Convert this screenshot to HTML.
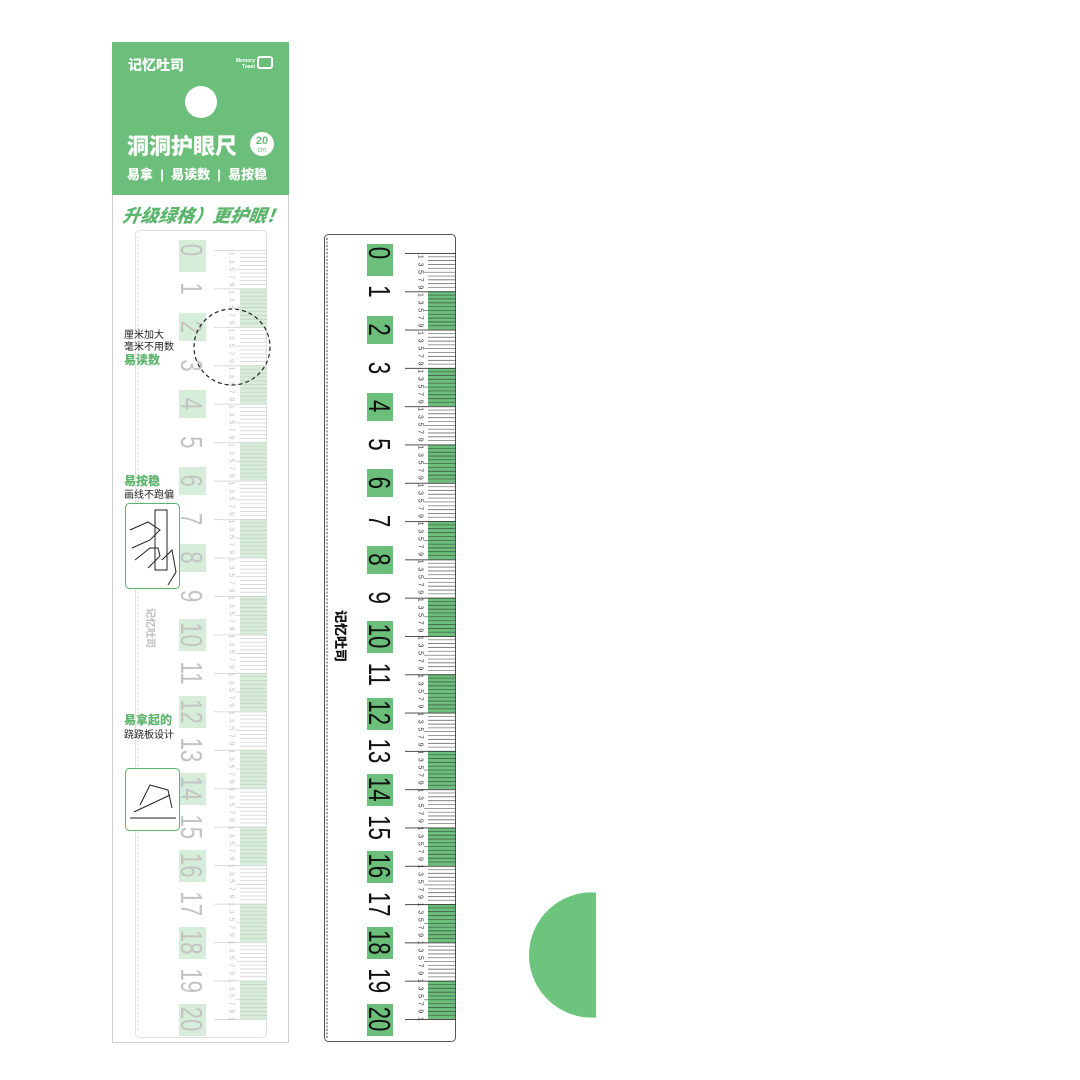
<!DOCTYPE html>
<html><head><meta charset="utf-8"><style>
html,body{margin:0;padding:0;background:#fff;}
svg{display:block;}
.cjk{font-family:"Liberation Sans","Noto Sans CJK SC",sans-serif;}
.n{font-family:"Liberation Sans",sans-serif;font-size:31px;}
.d{font-family:"Liberation Sans",sans-serif;font-size:7px;}
</style></head><body>
<svg width="1080" height="1080" viewBox="0 0 1080 1080" xmlns="http://www.w3.org/2000/svg">
<defs>
<pattern id="tk" patternUnits="userSpaceOnUse" x="0" y="253" width="1080" height="38.3">
<g stroke="#333" stroke-width="0.55">
<line x1="405" y1="0.4" x2="456" y2="0.4" stroke-width="0.9"/>
<line x1="428" y1="3.83" x2="456" y2="3.83"/><line x1="428" y1="7.66" x2="456" y2="7.66"/>
<line x1="428" y1="11.49" x2="456" y2="11.49"/><line x1="428" y1="15.32" x2="456" y2="15.32"/>
<line x1="424" y1="19.15" x2="456" y2="19.15"/><line x1="428" y1="22.98" x2="456" y2="22.98"/>
<line x1="428" y1="26.81" x2="456" y2="26.81"/><line x1="428" y1="30.64" x2="456" y2="30.64"/>
<line x1="428" y1="34.47" x2="456" y2="34.47"/>
</g></pattern>
<pattern id="tk2" patternUnits="userSpaceOnUse" x="0" y="250" width="1080" height="38.45">
<g stroke="#c4c4c4" stroke-width="0.6">
<line x1="214" y1="0.4" x2="267" y2="0.4"/>
<line x1="240" y1="3.85" x2="267" y2="3.85"/><line x1="240" y1="7.69" x2="267" y2="7.69"/>
<line x1="240" y1="11.54" x2="267" y2="11.54"/><line x1="240" y1="15.38" x2="267" y2="15.38"/>
<line x1="236" y1="19.2" x2="267" y2="19.2"/><line x1="240" y1="23.07" x2="267" y2="23.07"/>
<line x1="240" y1="26.9" x2="267" y2="26.9"/><line x1="240" y1="30.76" x2="267" y2="30.76"/>
<line x1="240" y1="34.6" x2="267" y2="34.6"/>
</g></pattern>
</defs>

<rect x="112.5" y="42.5" width="176" height="1000" fill="#fff" stroke="#cfcfcf"/>
<rect x="112" y="42" width="177" height="153" fill="#6cbf7b"/>
<text x="128" y="70" class="cjk" font-size="14" font-weight="900" fill="#fff">记忆吐司</text>
<text x="255" y="62" font-family="Liberation Sans" font-size="5" font-weight="bold" fill="#fff" text-anchor="end">Memory</text>
<text x="255" y="68" font-family="Liberation Sans" font-size="5" font-weight="bold" fill="#fff" text-anchor="end">Toast</text>
<rect x="258" y="57" width="14" height="11" rx="2" fill="none" stroke="#fff" stroke-width="2"/>
<circle cx="201" cy="102" r="16" fill="#fff"/>
<text x="127" y="154" class="cjk" font-size="22" font-weight="900" fill="#fff">洞洞护眼尺</text>
<circle cx="262" cy="144" r="12" fill="#fff"/>
<text x="262" y="144" font-family="Liberation Sans" font-size="11" font-weight="bold" fill="#6cbf7b" text-anchor="middle">20</text>
<text x="262" y="152" font-family="Liberation Sans" font-size="7" fill="#6cbf7b" text-anchor="middle">cm</text>
<text x="127" y="179" class="cjk" font-size="13" font-weight="900" fill="#fff" xml:space="preserve">易拿  |  易读数  |  易按稳</text>
<text x="123" y="222" class="cjk" font-size="18" font-weight="900" font-style="italic" fill="#5cb56c" transform="skewX(-8) translate(30,0)">升级绿格）更护眼！</text>

<rect x="135.5" y="230.5" width="131" height="807" rx="4" fill="#fff" stroke="#e0e0e0"/>
<line x1="138" y1="236" x2="138" y2="1032" stroke="#ddd" stroke-dasharray="2 2"/>
<g fill="#d6eed9">
<rect x="240" y="288.5" width="27" height="38.4"/><rect x="240" y="365.4" width="27" height="38.4"/>
<rect x="240" y="442.3" width="27" height="38.4"/><rect x="240" y="519.2" width="27" height="38.4"/>
<rect x="240" y="596.1" width="27" height="38.4"/><rect x="240" y="673" width="27" height="38.4"/>
<rect x="240" y="749.9" width="27" height="38.4"/><rect x="240" y="826.8" width="27" height="38.4"/>
<rect x="240" y="903.7" width="27" height="38.4"/><rect x="240" y="980.6" width="27" height="38.4"/>
<rect x="179" y="240" width="27" height="32"/><rect x="179" y="313" width="27" height="28"/>
<rect x="179" y="390" width="27" height="28"/><rect x="179" y="467" width="27" height="28"/>
<rect x="179" y="544" width="27" height="28"/><rect x="179" y="619" width="27" height="32"/>
<rect x="179" y="696" width="27" height="32"/><rect x="179" y="773" width="27" height="32"/>
<rect x="179" y="850" width="27" height="32"/><rect x="179" y="927" width="27" height="32"/>
<rect x="179" y="1004" width="27" height="32"/>
</g>
<rect x="214" y="250" width="53" height="770" fill="url(#tk2)"/>
<text class="d" fill="#c0c0c0" transform="translate(229.5,251.9) rotate(90)" textLength="769" lengthAdjust="spacing">13579135791357913579135791357913579135791357913579135791357913579135791357913579135791357913579135791</text>
<g class="n" fill="#c4c4c4" text-anchor="middle">
<text transform="translate(192,250) rotate(90) scale(0.72,1)" dy="0.35em">0</text>
<text transform="translate(192,288.5) rotate(90) scale(0.72,1)" dy="0.35em">1</text>
<text transform="translate(192,326.9) rotate(90) scale(0.72,1)" dy="0.35em">2</text>
<text transform="translate(192,365.4) rotate(90) scale(0.72,1)" dy="0.35em">3</text>
<text transform="translate(192,403.8) rotate(90) scale(0.72,1)" dy="0.35em">4</text>
<text transform="translate(192,442.3) rotate(90) scale(0.72,1)" dy="0.35em">5</text>
<text transform="translate(192,480.7) rotate(90) scale(0.72,1)" dy="0.35em">6</text>
<text transform="translate(192,519.2) rotate(90) scale(0.72,1)" dy="0.35em">7</text>
<text transform="translate(192,557.6) rotate(90) scale(0.72,1)" dy="0.35em">8</text>
<text transform="translate(192,596.1) rotate(90) scale(0.72,1)" dy="0.35em">9</text>
<text transform="translate(192,634.5) rotate(90) scale(0.72,1)" dy="0.35em">10</text>
<text transform="translate(192,673) rotate(90) scale(0.72,1)" dy="0.35em">11</text>
<text transform="translate(192,711.4) rotate(90) scale(0.72,1)" dy="0.35em">12</text>
<text transform="translate(192,749.9) rotate(90) scale(0.72,1)" dy="0.35em">13</text>
<text transform="translate(192,788.3) rotate(90) scale(0.72,1)" dy="0.35em">14</text>
<text transform="translate(192,826.8) rotate(90) scale(0.72,1)" dy="0.35em">15</text>
<text transform="translate(192,865.2) rotate(90) scale(0.72,1)" dy="0.35em">16</text>
<text transform="translate(192,903.7) rotate(90) scale(0.72,1)" dy="0.35em">17</text>
<text transform="translate(192,942.1) rotate(90) scale(0.72,1)" dy="0.35em">18</text>
<text transform="translate(192,980.6) rotate(90) scale(0.72,1)" dy="0.35em">19</text>
<text transform="translate(192,1019) rotate(90) scale(0.72,1)" dy="0.35em">20</text>
</g>
<text class="cjk" font-size="10" fill="#c4c4c4" font-weight="900" transform="translate(147,608) rotate(90)">记忆吐司</text>
<circle cx="232" cy="347" r="38" fill="none" stroke="#222" stroke-width="1.2" stroke-dasharray="4 3"/>
<text x="124" y="338" class="cjk" font-size="10" fill="#222">厘米加大</text>
<text x="124" y="350" class="cjk" font-size="10" fill="#222">毫米不用数</text>
<text x="124" y="364" class="cjk" font-size="12" font-weight="900" fill="#5cb56c">易读数</text>
<text x="124" y="485" class="cjk" font-size="12" font-weight="900" fill="#5cb56c">易按稳</text>
<text x="124" y="498" class="cjk" font-size="10" fill="#222">画线不跑偏</text>
<rect x="125.5" y="503.5" width="54" height="85" rx="4" fill="#fff" stroke="#5cb56c"/>
<g fill="none" stroke="#222" stroke-width="1">
<rect x="155" y="510" width="12" height="60"/>
<path d="M130 530 L148 522 L160 530 L150 540 L132 548 M135 560 L150 548 L158 548 L160 556 L148 568"/>
<path d="M162 560 L172 550 L176 572 L168 585"/>
</g>
<text x="124" y="724" class="cjk" font-size="12" font-weight="900" fill="#5cb56c">易拿起的</text>
<text x="124" y="738" class="cjk" font-size="10" fill="#222">跷跷板设计</text>
<rect x="125.5" y="768.5" width="54" height="62" rx="4" fill="#fff" stroke="#5cb56c"/>
<g fill="none" stroke="#222" stroke-width="1">
<path d="M130 818 L176 818 M134 812 L170 795 M140 805 L150 785 L168 790 L172 808"/>
</g>

<rect x="324.5" y="234.5" width="131" height="807" rx="4" fill="#fff" stroke="#555"/>
<path d="M327 238 L327 1038" stroke="#444" stroke-width="1" stroke-dasharray="2 1.5"/>
<g fill="#6cbf7b">
<rect x="428" y="291.3" width="27" height="38.3"/><rect x="428" y="367.9" width="27" height="38.3"/>
<rect x="428" y="444.5" width="27" height="38.3"/><rect x="428" y="521.1" width="27" height="38.3"/>
<rect x="428" y="597.7" width="27" height="38.3"/><rect x="428" y="674.3" width="27" height="38.3"/>
<rect x="428" y="750.9" width="27" height="38.3"/><rect x="428" y="827.5" width="27" height="38.3"/>
<rect x="428" y="904.1" width="27" height="38.3"/><rect x="428" y="980.7" width="27" height="38.3"/>
<rect x="367" y="244" width="26" height="32"/><rect x="367" y="316" width="26" height="28"/>
<rect x="367" y="393" width="26" height="28"/><rect x="367" y="469" width="26" height="28"/>
<rect x="367" y="546" width="26" height="28"/><rect x="367" y="621" width="26" height="32"/>
<rect x="367" y="698" width="26" height="32"/><rect x="367" y="774" width="26" height="32"/>
<rect x="367" y="851" width="26" height="32"/><rect x="367" y="927" width="26" height="32"/>
<rect x="367" y="1004" width="26" height="32"/>
</g>
<rect x="405" y="253" width="51" height="767" fill="url(#tk)"/>
<text class="d" fill="#333" transform="translate(418.5,254.9) rotate(90)" textLength="766" lengthAdjust="spacing">13579135791357913579135791357913579135791357913579135791357913579135791357913579135791357913579135791</text>
<g class="n" fill="#111" text-anchor="middle">
<text transform="translate(380,253) rotate(90) scale(0.72,1)" dy="0.35em">0</text>
<text transform="translate(380,291.3) rotate(90) scale(0.72,1)" dy="0.35em">1</text>
<text transform="translate(380,329.6) rotate(90) scale(0.72,1)" dy="0.35em">2</text>
<text transform="translate(380,367.9) rotate(90) scale(0.72,1)" dy="0.35em">3</text>
<text transform="translate(380,406.2) rotate(90) scale(0.72,1)" dy="0.35em">4</text>
<text transform="translate(380,444.5) rotate(90) scale(0.72,1)" dy="0.35em">5</text>
<text transform="translate(380,482.8) rotate(90) scale(0.72,1)" dy="0.35em">6</text>
<text transform="translate(380,521.1) rotate(90) scale(0.72,1)" dy="0.35em">7</text>
<text transform="translate(380,559.4) rotate(90) scale(0.72,1)" dy="0.35em">8</text>
<text transform="translate(380,597.7) rotate(90) scale(0.72,1)" dy="0.35em">9</text>
<text transform="translate(380,636) rotate(90) scale(0.72,1)" dy="0.35em">10</text>
<text transform="translate(380,674.3) rotate(90) scale(0.72,1)" dy="0.35em">11</text>
<text transform="translate(380,712.6) rotate(90) scale(0.72,1)" dy="0.35em">12</text>
<text transform="translate(380,750.9) rotate(90) scale(0.72,1)" dy="0.35em">13</text>
<text transform="translate(380,789.2) rotate(90) scale(0.72,1)" dy="0.35em">14</text>
<text transform="translate(380,827.5) rotate(90) scale(0.72,1)" dy="0.35em">15</text>
<text transform="translate(380,865.8) rotate(90) scale(0.72,1)" dy="0.35em">16</text>
<text transform="translate(380,904.1) rotate(90) scale(0.72,1)" dy="0.35em">17</text>
<text transform="translate(380,942.4) rotate(90) scale(0.72,1)" dy="0.35em">18</text>
<text transform="translate(380,980.7) rotate(90) scale(0.72,1)" dy="0.35em">19</text>
<text transform="translate(380,1019) rotate(90) scale(0.72,1)" dy="0.35em">20</text>
</g>
<text class="cjk" font-size="13" fill="#111" font-weight="900" transform="translate(336,610) rotate(90)">记忆吐司</text>

<path d="M596 892.5 A62.65 62.65 0 1 0 596 1017.5 Z" fill="#6cc47d"/>
</svg>
</body></html>
